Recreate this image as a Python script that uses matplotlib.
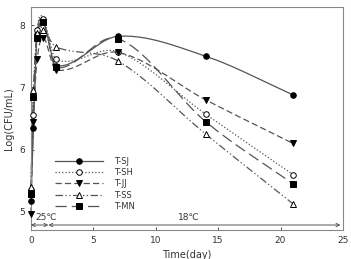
import numpy as np
import matplotlib
matplotlib.use("Agg")
import matplotlib.pyplot as plt

days = [0, 0.2, 0.5, 1, 2, 7, 14, 21]
labels = ["T-SJ", "T-SH", "T-JJ", "T-SS", "T-MN"]
t_sj = [5.18, 6.35, 7.85, 8.05, 7.35, 7.82, 7.50, 6.88]
t_sh = [5.35, 6.55, 7.92, 8.10, 7.45, 7.57, 6.57, 5.60]
t_jj = [4.97, 6.45, 7.45, 7.80, 7.28, 7.56, 6.80, 6.10]
t_ss = [5.40, 6.95, 7.88, 7.92, 7.65, 7.42, 6.25, 5.13]
t_mn = [5.28, 6.85, 7.80, 8.05, 7.32, 7.78, 6.45, 5.45]
series = [t_sj, t_sh, t_jj, t_ss, t_mn]

markers = ["o", "o", "v", "^", "s"]
mfaces = ["black", "white", "black", "white", "black"]
styles = ["-", ":", (0, (5, 2.5)), (0, (6, 2, 1, 2, 1, 2)), (0, (9, 4))]


def smooth(x, y, n=60):
    """Cubic Hermite curve through the points (Catmull-Rom style slopes)."""
    x = np.asarray(x, float)
    y = np.asarray(y, float)
    k = len(x)
    m = np.zeros(k)
    m[0] = (y[1] - y[0]) / (x[1] - x[0])
    m[-1] = (y[-1] - y[-2]) / (x[-1] - x[-2])
    for i in range(1, k - 1):
        m[i] = (y[i + 1] - y[i - 1]) / (x[i + 1] - x[i - 1])
    xs_all, ys_all = [], []
    for i in range(k - 1):
        h = x[i + 1] - x[i]
        t = np.linspace(0, 1, n)
        h00 = 2 * t ** 3 - 3 * t ** 2 + 1
        h10 = t ** 3 - 2 * t ** 2 + t
        h01 = -2 * t ** 3 + 3 * t ** 2
        h11 = t ** 3 - t ** 2
        ys = h00 * y[i] + h10 * h * m[i] + h01 * y[i + 1] + h11 * h * m[i + 1]
        xs_all.append(x[i] + t * h)
        ys_all.append(ys)
    return np.concatenate(xs_all), np.concatenate(ys_all)


fig = plt.figure(figsize=(3.51, 2.59), dpi=100)
ax = fig.add_axes([0.088, 0.112, 0.889, 0.861])

for vals, lab, mk, fc, ls in zip(series, labels, markers, mfaces, styles):
    xs, ys = smooth(days, vals)
    ax.plot(xs, ys, color="#555555", lw=0.9, ls=ls, clip_on=False)
    ax.plot(days, vals, ls="none", marker=mk, ms=4, mfc=fc, mec="black",
            mew=0.7, clip_on=False, zorder=3)
    ax.plot([], [], color="#555555", lw=0.9, ls=ls, marker=mk, ms=4,
            mfc=fc, mec="black", mew=0.7, label=lab)

ax.set_xlim(0, 25)
ax.set_ylim(4.71, 8.29)
ax.set_xticks([0, 5, 10, 15, 20, 25])
ax.set_yticks([5, 6, 7, 8])
ax.tick_params(direction="in", length=2.5, width=0.6, labelsize=6.5,
               colors="#333333", pad=4)
for sp in ax.spines.values():
    sp.set_color("#888888")
    sp.set_linewidth(0.8)

ax.set_xlabel("Time(day)", fontsize=7, color="#333333", labelpad=4)
ax.set_ylabel("Log(CFU/mL)", fontsize=7, color="#333333", labelpad=4)

arr = dict(arrowstyle="<->", color="#555555", lw=0.7,
           shrinkA=0, shrinkB=0, mutation_scale=6)
ax.annotate("", xy=(0, 4.79), xytext=(1.4, 4.79), arrowprops=arr)
ax.annotate("", xy=(1.4, 4.79), xytext=(24.8, 4.79), arrowprops=arr)
ax.text(0.35, 4.84, "25℃", fontsize=6.5, color="#333333", va="bottom")
ax.text(11.8, 4.84, "18℃", fontsize=6.5, color="#333333", va="bottom")

leg = ax.legend(loc="lower left", bbox_to_anchor=(0.065, 0.07), frameon=False,
                fontsize=6, handlelength=5.8, handletextpad=1.4,
                labelspacing=0.28, borderaxespad=0)
for t in leg.get_texts():
    t.set_color("#333333")

fig.savefig("out.png", dpi=100)
